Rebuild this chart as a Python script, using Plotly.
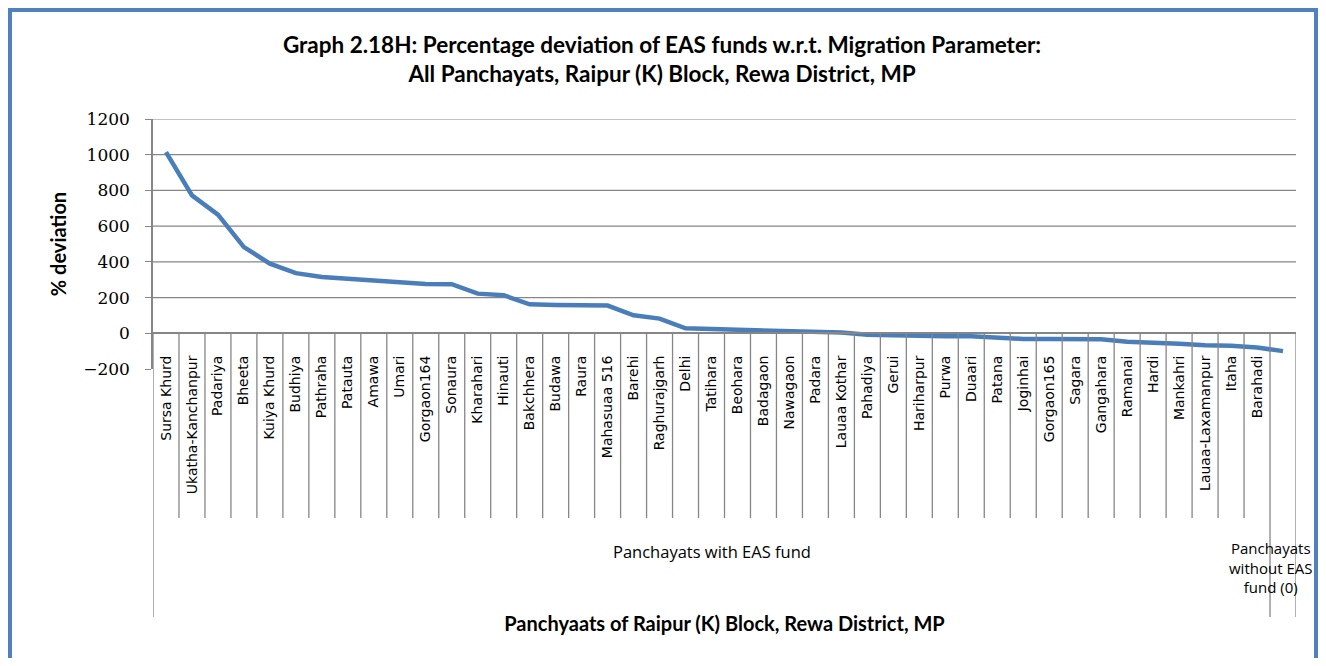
import plotly.graph_objects as go

# panchayats, sorted by deviation (last slot: panchayat without EAS fund)
panchayats = [
    "Sursa Khurd", "Ukatha-Kanchanpur", "Padariya", "Bheeta", "Kuiya Khurd",
    "Budhiya", "Pathraha", "Patauta", "Amawa", "Umari", "Gorgaon164",
    "Sonaura", "Kharahari", "Hinauti", "Bakchhera", "Budawa", "Raura",
    "Mahasuaa 516", "Barehi", "Raghurajgarh", "Delhi", "Tatihara", "Beohara",
    "Badagaon", "Nawagaon", "Padara", "Lauaa Kothar", "Pahadiya", "Gerui",
    "Hariharpur", "Purwa", "Duaari", "Patana", "Joginhai", "Gorgaon165",
    "Sagara", "Gangahara", "Ramanai", "Hardi", "Mankahri",
    "Lauaa-Laxamanpur", "Itaha", "Barahadi", " ",
]
group_names = ["Panchayats with EAS fund", "Panchayats<br>without EAS<br>fund (0)"]
group_sizes = [43, 1]

deviation = [
    1015, 772, 664, 483, 390, 337, 315, 306, 300, 287, 276,
    275, 222, 213, 162, 158, 156, 155, 101, 82, 28, 24, 20,
    18, 13, 6, 4, -8, -12, -16, -16, -16, -24, -32, -32,
    -32, -33, -47, -50, -58, -67, -70, -80, -100,
]

y_ticks = [-200, 0, 200, 400, 600, 800, 1000, 1200]
grid_vals = [200, 400, 600, 800, 1000, 1200]

GRAY = "#868686"
BLUE = "#4A7EBB"

# the page body has an 8px margin, so the figure is drawn 8px in
OFF = 8
W, H = 1326 - 2 * OFF, 666 - 2 * OFF
# plot area in screen pixels
PT, PB, PL, PR = 119, 369, 153, 1296


def py(pix):
    return (PB - pix) / (PB - PT)


def px(pix):
    return (pix - PL) / (PR - PL)


fig = go.Figure()

fig.add_trace(go.Scatter(
    x=panchayats,
    y=deviation,
    mode="lines",
    line=dict(color=BLUE, width=4.5),
    showlegend=False,
))

for v in grid_vals:
    fig.add_hline(y=v, line=dict(color=GRAY, width=1.2), layer="below")

# category dividers under the axis, longer ones at group edges
edges = [-0.5]
for n in group_sizes:
    edges.append(edges[-1] + n)
for i in range(len(panchayats) + 1):
    b = i - 0.5
    bottom = 617 if b in edges else 518
    fig.add_shape(type="line", xref="x", yref="paper",
                  x0=b, x1=b, y0=py(333), y1=py(bottom),
                  line=dict(color=GRAY, width=1.3), layer="above")

# group labels
fig.add_annotation(x=(edges[0] + edges[1]) / 2, xref="x", y=py(551), yref="paper",
                   text=group_names[0], showarrow=False,
                   xanchor="center", yanchor="middle",
                   font=dict(family="Open Sans", size=16.5, color="black"))
fig.add_annotation(x=px(1314), xref="paper", y=py(567), yref="paper",
                   text=group_names[1], showarrow=False, align="center",
                   xanchor="right", yanchor="middle",
                   font=dict(family="Open Sans", size=15, color="black"))

# outer blue chart border (left, top, right; bottom runs off the page)
border = dict(color="#4F81BD", width=4)
fig.add_shape(type="line", xref="paper", yref="paper",
              x0=px(10), x1=px(10), y0=py(700), y1=py(8), line=border)
fig.add_shape(type="line", xref="paper", yref="paper",
              x0=px(8), x1=px(1318), y0=py(10), y1=py(10), line=border)
fig.add_shape(type="line", xref="paper", yref="paper",
              x0=px(1316), x1=px(1316), y0=py(700), y1=py(8), line=border)

fig.update_layout(
    width=W, height=H,
    margin=dict(l=PL - OFF, r=W - (PR - OFF), t=PT - OFF, b=H - (PB - OFF)),
    paper_bgcolor="white", plot_bgcolor="white",
    title=dict(
        text="Graph 2.18H: Percentage deviation of EAS funds w.r.t. Migration Parameter:<br>"
             "All Panchayats, Raipur (K) Block, Rewa District, MP",
        x=px(662), xref="paper", xanchor="center", y=1 - 45 / H, yanchor="top",
        font=dict(family="Lato", size=22.5, color="black", weight="bold"),
    ),
    xaxis=dict(
        type="category",
        anchor="free", position=py(333),
        automargin=False,
        range=[-0.5, len(panchayats) - 0.5],
        showline=True, linecolor=GRAY, linewidth=2,
        ticks="", tickangle=-90, ticklabelstandoff=16,
        tickfont=dict(family="DejaVu Sans", size=14, color="black"),
        showgrid=False,
        title=dict(text="Panchyaats of Raipur (K) Block, Rewa District, MP",
                   font=dict(family="Lato", size=20, color="black", weight="bold"),
                   standoff=123),
    ),
    yaxis=dict(
        range=[-200, 1200],
        automargin=False,
        tickvals=y_ticks,
        showgrid=False, zeroline=False,
        showline=True, linecolor=GRAY, linewidth=1.5,
        ticks="outside", ticklen=6, tickcolor=GRAY,
        ticklabelstandoff=12,
        tickfont=dict(family="DejaVu Serif", size=17, color="black"),
        title=dict(text="% deviation",
                   font=dict(family="Lato", size=20, color="black", weight="bold"),
                   standoff=11),
    ),
)

fig.write_html("out.html")
